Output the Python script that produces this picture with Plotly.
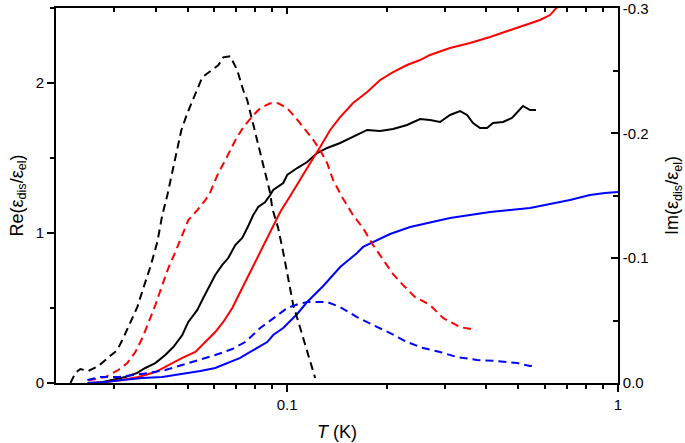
import plotly.graph_objects as go

# ---------------- data ----------------
# Real part (left axis), solid lines
T_re_black = [0.02685, 0.0296, 0.0324, 0.03522, 0.03724, 0.03993, 0.0428, 0.04526, 0.04818, 0.05023,
              0.0535, 0.05575, 0.05852, 0.0606, 0.06364, 0.06635, 0.06967, 0.07311, 0.07574, 0.07895,
              0.08174, 0.08583, 0.08886, 0.09072, 0.09726, 0.1, 0.1072, 0.1149, 0.1232, 0.1321,
              0.1446, 0.1582, 0.1745, 0.191, 0.209, 0.2304, 0.2522, 0.2704, 0.2899, 0.3107,
              0.3332, 0.3498, 0.3647, 0.3829, 0.4019, 0.4191, 0.4493, 0.4783, 0.4955, 0.5164,
              0.5422, 0.5651]
re_black = [0.0, 0.02, 0.04, 0.067, 0.10, 0.133, 0.187, 0.24, 0.32, 0.407,
            0.487, 0.567, 0.653, 0.72, 0.787, 0.833, 0.92, 0.967, 1.033, 1.12,
            1.173, 1.207, 1.253, 1.287, 1.333, 1.387, 1.433, 1.473, 1.533, 1.567,
            1.60, 1.64, 1.687, 1.68, 1.693, 1.72, 1.76, 1.753, 1.74, 1.787,
            1.813, 1.787, 1.733, 1.70, 1.70, 1.733, 1.74, 1.767, 1.807, 1.847,
            1.82, 1.82]

T_re_red = [0.02505, 0.0282, 0.03173, 0.03548, 0.03993, 0.04371, 0.04818, 0.05276, 0.05654, 0.0606,
            0.06408, 0.06823, 0.07211, 0.07731, 0.08288, 0.08886, 0.09525, 0.1021, 0.1095, 0.1174,
            0.1258, 0.1349, 0.1446, 0.1582, 0.1745, 0.191, 0.209, 0.2304, 0.2522, 0.2704,
            0.3107, 0.3572, 0.4105, 0.4719, 0.531, 0.5812, 0.6232, 0.6543, 0.67]
re_red = [0.0, 0.007, 0.02, 0.04, 0.073, 0.12, 0.167, 0.207, 0.273, 0.34,
          0.407, 0.50, 0.607, 0.74, 0.873, 1.007, 1.14, 1.247, 1.353, 1.467,
          1.573, 1.687, 1.773, 1.867, 1.94, 2.02, 2.073, 2.12, 2.153, 2.187,
          2.233, 2.267, 2.307, 2.353, 2.387, 2.42, 2.453, 2.50, 2.53]

T_re_blue = [0.02488, 0.0282, 0.03173, 0.03647, 0.04191, 0.04818, 0.0546, 0.0606, 0.06635, 0.07211,
             0.07731, 0.08118, 0.087, 0.09072, 0.09726, 0.1021, 0.1072, 0.1149, 0.1285, 0.1446,
             0.155, 0.1627, 0.1696, 0.1819, 0.2047, 0.2353, 0.2761, 0.3107, 0.3572, 0.4105,
             0.4719, 0.5422, 0.6232, 0.7161, 0.8229, 0.9136, 1.0]
re_blue = [0.0, 0.007, 0.02, 0.033, 0.04, 0.06, 0.08, 0.10, 0.133, 0.167,
           0.207, 0.233, 0.273, 0.32, 0.367, 0.413, 0.46, 0.54, 0.647, 0.773,
           0.827, 0.867, 0.907, 0.94, 0.993, 1.04, 1.073, 1.10, 1.12, 1.14,
           1.153, 1.167, 1.193, 1.22, 1.253, 1.267, 1.273]

# Imaginary part (right axis), dashed lines
T_im_black = [0.02211, 0.02288, 0.02369, 0.02505, 0.02685, 0.02878, 0.03064, 0.03195, 0.03354, 0.03522,
              0.03673, 0.03855, 0.04048, 0.04191, 0.04341, 0.04494, 0.04621, 0.04785, 0.04988, 0.052,
              0.05535, 0.05852, 0.06188, 0.06408, 0.06728, 0.07065, 0.07366, 0.07574, 0.07841, 0.08118,
              0.08465, 0.08886, 0.09012, 0.09393, 0.09726, 0.1007, 0.1043, 0.1095, 0.1149, 0.1215]
im_black = [0.0, -0.008, -0.0112, -0.0096, -0.0136, -0.020, -0.0264, -0.036, -0.048, -0.0608,
            -0.076, -0.0928, -0.1128, -0.1344, -0.1504, -0.168, -0.184, -0.2024, -0.216, -0.228,
            -0.2448, -0.2496, -0.2544, -0.2608, -0.2616, -0.2504, -0.2344, -0.2264, -0.2104, -0.192,
            -0.1728, -0.152, -0.14, -0.124, -0.1048, -0.084, -0.0624, -0.044, -0.0248, -0.004]

T_im_red = [0.02505, 0.0282, 0.03086, 0.03285, 0.03474, 0.03647, 0.03803, 0.03993, 0.04191, 0.04371,
            0.04589, 0.04818, 0.05023, 0.0535, 0.05654, 0.05852, 0.06188, 0.06499, 0.06967, 0.07366,
            0.07895, 0.08288, 0.08886, 0.09393, 0.1, 0.1057, 0.1118, 0.119, 0.1258, 0.1321,
            0.1377, 0.1466, 0.1582, 0.1696, 0.1819, 0.195, 0.209, 0.2241, 0.2436, 0.2704,
            0.296, 0.3332, 0.3724]
im_red = [-0.002, -0.0048, -0.0104, -0.016, -0.0248, -0.036, -0.048, -0.0624, -0.0784, -0.092,
          -0.1048, -0.1184, -0.1304, -0.1384, -0.1464, -0.1528, -0.168, -0.1784, -0.1944, -0.2048,
          -0.2144, -0.22, -0.224, -0.224, -0.22, -0.2128, -0.2048, -0.196, -0.1864, -0.176,
          -0.1624, -0.1488, -0.1344, -0.124, -0.1104, -0.0984, -0.0872, -0.0784, -0.0688, -0.0624,
          -0.052, -0.0448, -0.0424]

T_im_blue = [0.02488, 0.02723, 0.03086, 0.03474, 0.03803, 0.0428, 0.04818, 0.05388, 0.0606, 0.06823,
             0.07467, 0.08288, 0.09072, 0.1, 0.108, 0.1149, 0.1258, 0.1321, 0.1446, 0.1627,
             0.1819, 0.2047, 0.2304, 0.2576, 0.2899, 0.3263, 0.375, 0.4309, 0.4955, 0.5422, 0.5691]
im_blue = [-0.0024, -0.0048, -0.0048, -0.0064, -0.008, -0.0104, -0.0144, -0.0184, -0.0224, -0.0272,
           -0.0328, -0.044, -0.052, -0.06, -0.0632, -0.0648, -0.0648, -0.0648, -0.0608, -0.0528,
           -0.0464, -0.04, -0.0328, -0.028, -0.0248, -0.0208, -0.0184, -0.0176, -0.016, -0.0136, -0.0144]

x_major = [0.1, 1]
x_major_text = ["0.1", "1"]
x_minor = [0.03, 0.04, 0.05, 0.06, 0.07, 0.08, 0.09, 0.2, 0.3, 0.4, 0.5, 0.6, 0.7, 0.8, 0.9]
y_left_ticks = [0, 1, 2]
y_right_ticks = [0.0, -0.1, -0.2, -0.3]
y_right_text = ["0.0", "-0.1", "-0.2", "-0.3"]

# ---------------- figure ----------------
FONT = "Liberation Sans, Arial, sans-serif"
DASH = "8px,5px"
LW = 2

fig = go.Figure()
for T, v, c in [(T_re_black, re_black, "black"), (T_re_red, re_red, "#ff0000"), (T_re_blue, re_blue, "#0000ff")]:
    fig.add_trace(go.Scatter(x=T, y=v, mode="lines", line=dict(color=c, width=LW),
                             xaxis="x", yaxis="y", showlegend=False))
for T, v, c in [(T_im_black, im_black, "black"), (T_im_red, im_red, "#ff0000"), (T_im_blue, im_blue, "#0000ff")]:
    fig.add_trace(go.Scatter(x=T, y=v, mode="lines", line=dict(color=c, width=LW, dash=DASH),
                             xaxis="x2", yaxis="y2", showlegend=False))

xr = [-1.699, 0.0002]
fig.update_layout(
    width=685, height=443,
    margin=dict(l=56, r=67, t=8, b=60, autoexpand=False),
    paper_bgcolor="white", plot_bgcolor="white",
    font=dict(family=FONT, size=15, color="black"),
    xaxis=dict(type="log", range=xr, showgrid=False, zeroline=False, automargin=False,
               showline=True, linecolor="black", linewidth=1.6, mirror=True,
               ticks="outside", ticklen=7, tickwidth=1.5, tickcolor="black",
               tickvals=x_major, ticktext=x_major_text, ticklabeloverflow="allow",
               minor=dict(tickvals=x_minor, ticks="outside", ticklen=4, tickwidth=1.5, tickcolor="black", showgrid=False),
               title=dict(text="<i>T</i> (K)", font=dict(size=18), standoff=14)),
    xaxis2=dict(type="log", range=xr, overlaying="x", side="top", anchor="y", automargin=False,
                showgrid=False, zeroline=False, showline=False,
                ticks="inside", ticklen=6, tickwidth=1.5, tickcolor="black",
                tickvals=x_major, showticklabels=False,
                minor=dict(tickvals=x_minor, ticks="inside", ticklen=3.5, tickwidth=1.5, tickcolor="black", showgrid=False)),
    yaxis=dict(range=[0, 2.5], showgrid=False, zeroline=False, automargin=False,
               showline=True, linecolor="black", linewidth=1.6,
               ticks="outside", ticklen=7, tickwidth=1.5, tickcolor="black",
               tickvals=y_left_ticks, ticklabeloverflow="allow",
               minor=dict(dtick=0.5, ticks="outside", ticklen=4, tickwidth=1.5, tickcolor="black", showgrid=False),
               title=dict(text="Re(ε<sub>dis</sub>/ε<sub>el</sub>)", font=dict(size=18), standoff=8)),
    yaxis2=dict(range=[0, -0.3003], overlaying="y", side="right", anchor="x2", automargin=False,
                showgrid=False, zeroline=False,
                showline=True, linecolor="black", linewidth=1.6,
                ticks="inside", ticklen=7, tickwidth=1.5, tickcolor="black",
                tickvals=y_right_ticks, ticktext=y_right_text, ticklabeloverflow="allow",
                minor=dict(dtick=0.05, ticks="inside", ticklen=5, tickwidth=1.5, tickcolor="black", showgrid=False),
                title=dict(text="Im(ε<sub>dis</sub>/ε<sub>el</sub>)", font=dict(size=18), standoff=18)),
)

fig.write_html("out.html", config={"displayModeBar": False},
               post_script="document.body.style.margin='0';document.body.style.padding='0';")
